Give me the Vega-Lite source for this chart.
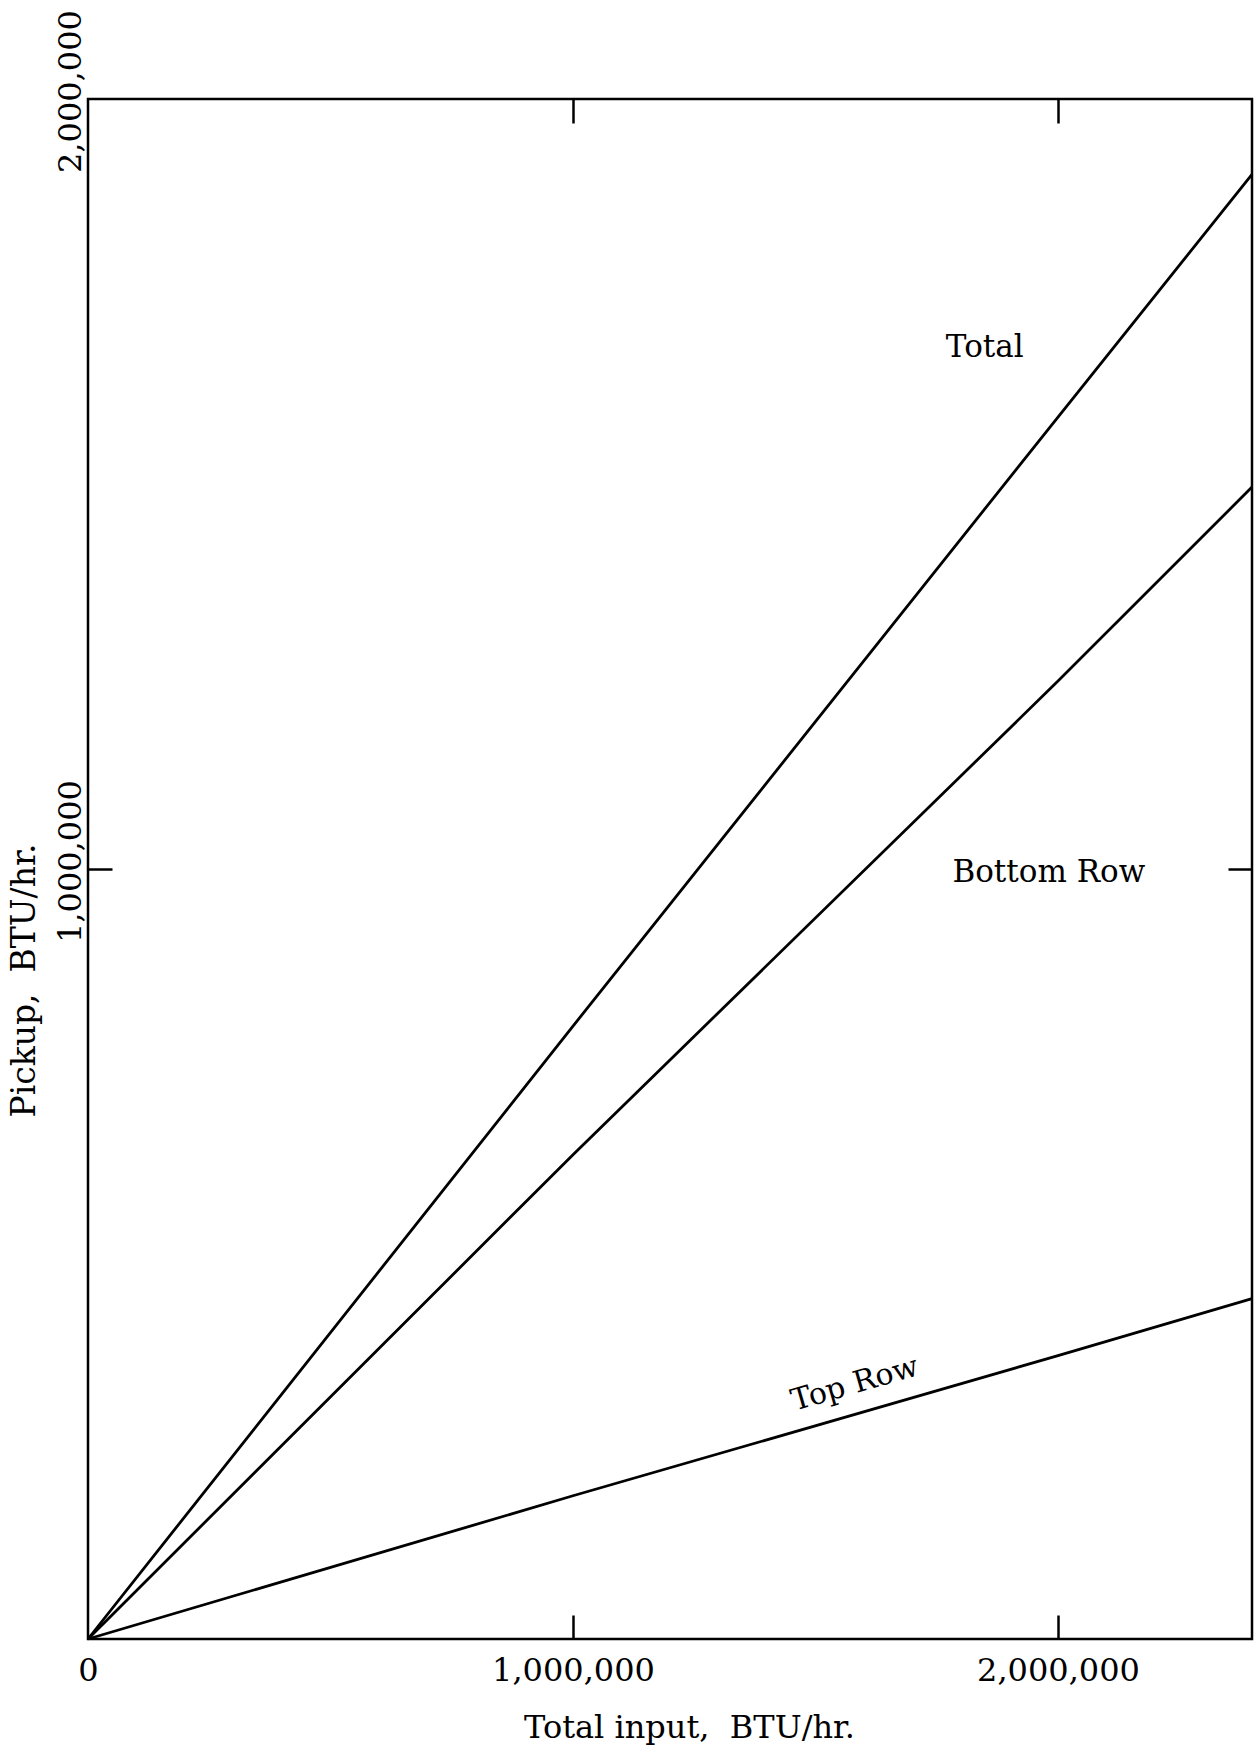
{
  "$schema": "https://vega.github.io/schema/vega-lite/v6.json",
  "width": 1164,
  "height": 1540,
  "autosize": {"type": "none"},
  "padding": {"left": 88, "top": 99, "right": 4, "bottom": 112},
  "background": "white",
  "config": {
    "view": {"stroke": "black", "strokeWidth": 2.5},
    "font": "DejaVu Serif",
    "axis": {
      "domain": false,
      "grid": false,
      "labelFont": "DejaVu Serif",
      "titleFont": "DejaVu Serif",
      "labelColor": "black",
      "titleColor": "black",
      "tickColor": "black",
      "titleFontWeight": "normal"
    }
  },
  "datasets": {
    "lines": [
      {"series": "Total", "input": 0, "pickup": 0},
      {"series": "Total", "input": 1000000, "pickup": 796000},
      {"series": "Total", "input": 2000000, "pickup": 1587000},
      {"series": "Total", "input": 2400000, "pickup": 1902000},
      {"series": "Bottom Row", "input": 0, "pickup": 0},
      {"series": "Bottom Row", "input": 1000000, "pickup": 629000},
      {"series": "Bottom Row", "input": 2000000, "pickup": 1244000},
      {"series": "Bottom Row", "input": 2400000, "pickup": 1496000},
      {"series": "Top Row", "input": 0, "pickup": 0},
      {"series": "Top Row", "input": 1000000, "pickup": 186000},
      {"series": "Top Row", "input": 2000000, "pickup": 368000},
      {"series": "Top Row", "input": 2400000, "pickup": 442000}
    ],
    "notes": [
      {"label": "Total", "input": 1849000, "pickup": 1677000},
      {"label": "Bottom Row", "input": 1981000, "pickup": 995000}
    ],
    "notes2": [
      {"label": "Top Row", "input": 1581000, "pickup": 331000}
    ]
  },
  "layer": [
    {
      "data": {"name": "lines"},
      "mark": {"type": "line", "color": "black", "strokeWidth": 2.8},
      "encoding": {
        "x": {
          "field": "input", "type": "quantitative",
          "scale": {"domain": [0, 2400000], "nice": false},
          "axis": {
            "orient": "bottom", "values": [0, 1000000, 2000000], "format": ",.0f",
            "ticks": false, "labelFontSize": 32, "labelPadding": 16, "labelFlush": false,
            "title": "Total input,\u00a0 BTU/hr.", "titleFontSize": 32,
            "titleX": 601, "titleY": 98, "titleBaseline": "alphabetic", "titleAlign": "center"
          }
        },
        "y": {
          "field": "pickup", "type": "quantitative",
          "scale": {"domain": [0, 2000000], "nice": false},
          "axis": {
            "orient": "left", "values": [1000000, 2000000], "format": ",.0f",
            "ticks": false, "labelAngle": -90, "labelFontSize": 32, "labelPadding": 1,
            "labelOffset": -8, "labelFlush": false, "labelAlign": "center", "labelBaseline": "bottom",
            "title": "Pickup,\u00a0 BTU/hr.", "titleFontSize": 33, "titleAngle": -90,
            "titleX": -54, "titleY": 881, "titleBaseline": "alphabetic", "titleAlign": "center"
          }
        },
        "detail": {"field": "series"}
      }
    },
    {
      "data": {"name": "lines"},
      "mark": {"type": "point", "opacity": 0},
      "encoding": {
        "x": {"field": "input", "type": "quantitative",
          "axis": {"orient": "bottom", "values": [1000000, 2000000], "labels": false, "title": null, "tickSize": -24, "tickWidth": 2.5}},
        "y": {"field": "pickup", "type": "quantitative",
          "axis": {"orient": "left", "values": [1000000], "labels": false, "title": null, "tickSize": -24, "tickWidth": 2.5}}
      }
    },
    {
      "data": {"name": "lines"},
      "mark": {"type": "point", "opacity": 0},
      "encoding": {
        "x": {"field": "input", "type": "quantitative",
          "axis": {"orient": "top", "values": [1000000, 2000000], "labels": false, "title": null, "tickSize": -24, "tickWidth": 2.5}},
        "y": {"field": "pickup", "type": "quantitative",
          "axis": {"orient": "right", "values": [1000000], "labels": false, "title": null, "tickSize": -24, "tickWidth": 2.5}}
      }
    },
    {
      "data": {"name": "notes"},
      "mark": {"type": "text", "fontSize": 31, "font": "DejaVu Serif", "color": "black", "align": "center", "baseline": "middle"},
      "encoding": {
        "x": {"field": "input", "type": "quantitative", "axis": null},
        "y": {"field": "pickup", "type": "quantitative", "axis": null},
        "text": {"field": "label"}
      }
    },
    {
      "data": {"name": "notes2"},
      "mark": {"type": "text", "fontSize": 30, "font": "DejaVu Serif", "color": "black", "align": "center", "baseline": "middle", "angle": -16},
      "encoding": {
        "x": {"field": "input", "type": "quantitative", "axis": null},
        "y": {"field": "pickup", "type": "quantitative", "axis": null},
        "text": {"field": "label"}
      }
    }
  ],
  "resolve": {"axis": {"x": "independent", "y": "independent"}}
}
